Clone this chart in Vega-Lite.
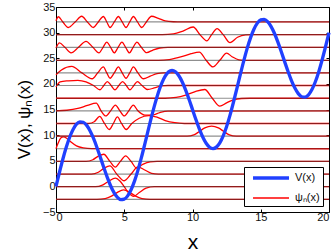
{
"$schema": "https://vega.github.io/schema/vega-lite/v6.json",
"width": 273, "height": 205,
"autosize": {"type": "none"},
"padding": {"left": 56, "top": 7, "right": 6, "bottom": 40},
"background": "white",
"datasets": {
"lev": [{"E":-2.53},{"E":-0.06},{"E":2.4},{"E":4.87},{"E":7.34},{"E":9.8},{"E":12.27},{"E":14.74},{"E":17.2},{"E":19.68},{"E":22.14},{"E":24.6},{"E":27.14},{"E":29.6},{"E":32.08}],
"pot": [
{"x":0,"V":0,"s":"V(x)"},{"x":0.25,"V":2.71,"s":"V(x)"},{"x":0.5,"V":5.29,"s":"V(x)"},{"x":0.75,"V":7.62,"s":"V(x)"},{"x":1,"V":9.59,"s":"V(x)"},{"x":1.25,"V":11.11,"s":"V(x)"},{"x":1.5,"V":12.13,"s":"V(x)"},{"x":1.75,"V":12.59,"s":"V(x)"},{"x":2,"V":12.51,"s":"V(x)"},{"x":2.25,"V":11.9,"s":"V(x)"},{"x":2.5,"V":10.82,"s":"V(x)"},{"x":2.75,"V":9.35,"s":"V(x)"},{"x":3,"V":7.59,"s":"V(x)"},{"x":3.25,"V":5.66,"s":"V(x)"},{"x":3.5,"V":3.69,"s":"V(x)"},{"x":3.75,"V":1.8,"s":"V(x)"},{"x":4,"V":0.12,"s":"V(x)"},{"x":4.25,"V":-1.23,"s":"V(x)"},{"x":4.5,"V":-2.16,"s":"V(x)"},{"x":4.75,"V":-2.6,"s":"V(x)"},{"x":5,"V":-2.5,"s":"V(x)"},{"x":5.25,"V":-1.85,"s":"V(x)"},{"x":5.5,"V":-0.66,"s":"V(x)"},{"x":5.75,"V":1.02,"s":"V(x)"},{"x":6,"V":3.12,"s":"V(x)"},{"x":6.25,"V":5.55,"s":"V(x)"},{"x":6.5,"V":8.19,"s":"V(x)"},{"x":6.75,"V":10.91,"s":"V(x)"},{"x":7,"V":13.59,"s":"V(x)"},{"x":7.25,"V":16.1,"s":"V(x)"},{"x":7.5,"V":18.32,"s":"V(x)"},{"x":7.75,"V":20.15,"s":"V(x)"},{"x":8,"V":21.51,"s":"V(x)"},{"x":8.25,"V":22.34,"s":"V(x)"},{"x":8.5,"V":22.63,"s":"V(x)"},{"x":8.75,"V":22.36,"s":"V(x)"},{"x":9,"V":21.59,"s":"V(x)"},{"x":9.25,"V":20.37,"s":"V(x)"},{"x":9.5,"V":18.79,"s":"V(x)"},{"x":9.75,"V":16.96,"s":"V(x)"},{"x":10,"V":15,"s":"V(x)"},{"x":10.25,"V":13.04,"s":"V(x)"},{"x":10.5,"V":11.21,"s":"V(x)"},{"x":10.75,"V":9.63,"s":"V(x)"},{"x":11,"V":8.41,"s":"V(x)"},{"x":11.25,"V":7.64,"s":"V(x)"},{"x":11.5,"V":7.37,"s":"V(x)"},{"x":11.75,"V":7.66,"s":"V(x)"},{"x":12,"V":8.49,"s":"V(x)"},{"x":12.25,"V":9.85,"s":"V(x)"},{"x":12.5,"V":11.68,"s":"V(x)"},{"x":12.75,"V":13.9,"s":"V(x)"},{"x":13,"V":16.41,"s":"V(x)"},{"x":13.25,"V":19.09,"s":"V(x)"},{"x":13.5,"V":21.81,"s":"V(x)"},{"x":13.75,"V":24.45,"s":"V(x)"},{"x":14,"V":26.88,"s":"V(x)"},{"x":14.25,"V":28.98,"s":"V(x)"},{"x":14.5,"V":30.66,"s":"V(x)"},{"x":14.75,"V":31.85,"s":"V(x)"},{"x":15,"V":32.5,"s":"V(x)"},{"x":15.25,"V":32.6,"s":"V(x)"},{"x":15.5,"V":32.16,"s":"V(x)"},{"x":15.75,"V":31.23,"s":"V(x)"},{"x":16,"V":29.88,"s":"V(x)"},{"x":16.25,"V":28.2,"s":"V(x)"},{"x":16.5,"V":26.31,"s":"V(x)"},{"x":16.75,"V":24.34,"s":"V(x)"},{"x":17,"V":22.41,"s":"V(x)"},{"x":17.25,"V":20.65,"s":"V(x)"},{"x":17.5,"V":19.18,"s":"V(x)"},{"x":17.75,"V":18.1,"s":"V(x)"},{"x":18,"V":17.49,"s":"V(x)"},{"x":18.25,"V":17.41,"s":"V(x)"},{"x":18.5,"V":17.87,"s":"V(x)"},{"x":18.75,"V":18.89,"s":"V(x)"},{"x":19,"V":20.41,"s":"V(x)"},{"x":19.25,"V":22.38,"s":"V(x)"},{"x":19.5,"V":24.71,"s":"V(x)"},{"x":19.75,"V":27.29,"s":"V(x)"},{"x":20,"V":30,"s":"V(x)"}
],
"psi": [
{"n":0,"x":0,"y":-2.53,"s":"ψₙ(x)"},{"n":0,"x":3.0,"y":-2.53,"s":"ψₙ(x)"},{"n":0,"x":3.6,"y":-2.38,"s":"ψₙ(x)"},{"n":0,"x":4.1,"y":-1.85,"s":"ψₙ(x)"},{"n":0,"x":4.5,"y":-1.16,"s":"ψₙ(x)"},{"n":0,"x":4.95,"y":-0.7,"s":"ψₙ(x)"},{"n":0,"x":5.4,"y":-1.16,"s":"ψₙ(x)"},{"n":0,"x":5.8,"y":-1.85,"s":"ψₙ(x)"},{"n":0,"x":6.3,"y":-2.38,"s":"ψₙ(x)"},{"n":0,"x":6.9,"y":-2.53,"s":"ψₙ(x)"},{"n":0,"x":20,"y":-2.53,"s":"ψₙ(x)"},
{"n":1,"x":0,"y":-0.06,"s":"ψₙ(x)"},{"n":1,"x":2.9,"y":-0.06,"s":"ψₙ(x)"},{"n":1,"x":3.4,"y":0.25,"s":"ψₙ(x)"},{"n":1,"x":3.85,"y":1.0,"s":"ψₙ(x)"},{"n":1,"x":4.35,"y":1.62,"s":"ψₙ(x)"},{"n":1,"x":4.7,"y":1.0,"s":"ψₙ(x)"},{"n":1,"x":5.0,"y":-0.06,"s":"ψₙ(x)"},{"n":1,"x":5.3,"y":-1.2,"s":"ψₙ(x)"},{"n":1,"x":5.7,"y":-1.95,"s":"ψₙ(x)"},{"n":1,"x":6.1,"y":-1.2,"s":"ψₙ(x)"},{"n":1,"x":6.6,"y":-0.35,"s":"ψₙ(x)"},{"n":1,"x":7.2,"y":-0.06,"s":"ψₙ(x)"},{"n":1,"x":20,"y":-0.06,"s":"ψₙ(x)"},
{"n":2,"x":0,"y":2.4,"s":"ψₙ(x)"},{"n":2,"x":2.6,"y":2.4,"s":"ψₙ(x)"},{"n":2,"x":3.1,"y":2.75,"s":"ψₙ(x)"},{"n":2,"x":3.5,"y":3.5,"s":"ψₙ(x)"},{"n":2,"x":3.95,"y":4.0,"s":"ψₙ(x)"},{"n":2,"x":4.45,"y":2.4,"s":"ψₙ(x)"},{"n":2,"x":5.0,"y":1.1,"s":"ψₙ(x)"},{"n":2,"x":5.5,"y":2.4,"s":"ψₙ(x)"},{"n":2,"x":6.0,"y":3.8,"s":"ψₙ(x)"},{"n":2,"x":6.5,"y":3.2,"s":"ψₙ(x)"},{"n":2,"x":7.0,"y":2.55,"s":"ψₙ(x)"},{"n":2,"x":7.5,"y":2.4,"s":"ψₙ(x)"},{"n":2,"x":20,"y":2.4,"s":"ψₙ(x)"},
{"n":3,"x":0,"y":4.87,"s":"ψₙ(x)"},{"n":3,"x":2.2,"y":4.87,"s":"ψₙ(x)"},{"n":3,"x":2.7,"y":5.2,"s":"ψₙ(x)"},{"n":3,"x":3.1,"y":5.9,"s":"ψₙ(x)"},{"n":3,"x":3.5,"y":6.27,"s":"ψₙ(x)"},{"n":3,"x":3.95,"y":4.87,"s":"ψₙ(x)"},{"n":3,"x":4.35,"y":3.77,"s":"ψₙ(x)"},{"n":3,"x":4.72,"y":4.87,"s":"ψₙ(x)"},{"n":3,"x":5.1,"y":5.97,"s":"ψₙ(x)"},{"n":3,"x":5.5,"y":4.87,"s":"ψₙ(x)"},{"n":3,"x":5.9,"y":3.57,"s":"ψₙ(x)"},{"n":3,"x":6.35,"y":4.3,"s":"ψₙ(x)"},{"n":3,"x":6.9,"y":4.8,"s":"ψₙ(x)"},{"n":3,"x":7.4,"y":4.87,"s":"ψₙ(x)"},{"n":3,"x":20,"y":4.87,"s":"ψₙ(x)"},
{"n":4,"x":0,"y":7.34,"s":"ψₙ(x)"},{"n":4,"x":0.15,"y":8.4,"s":"ψₙ(x)"},{"n":4,"x":0.35,"y":9.45,"s":"ψₙ(x)"},{"n":4,"x":0.55,"y":9.65,"s":"ψₙ(x)"},{"n":4,"x":0.8,"y":9.35,"s":"ψₙ(x)"},{"n":4,"x":1.1,"y":8.65,"s":"ψₙ(x)"},{"n":4,"x":1.5,"y":7.9,"s":"ψₙ(x)"},{"n":4,"x":2.0,"y":7.5,"s":"ψₙ(x)"},{"n":4,"x":2.6,"y":7.36,"s":"ψₙ(x)"},{"n":4,"x":20,"y":7.34,"s":"ψₙ(x)"},
{"n":5,"x":0,"y":9.8,"s":"ψₙ(x)"},{"n":5,"x":9.6,"y":9.8,"s":"ψₙ(x)"},{"n":5,"x":10.1,"y":10.05,"s":"ψₙ(x)"},{"n":5,"x":10.5,"y":10.7,"s":"ψₙ(x)"},{"n":5,"x":10.9,"y":11.4,"s":"ψₙ(x)"},{"n":5,"x":11.4,"y":11.75,"s":"ψₙ(x)"},{"n":5,"x":11.9,"y":11.4,"s":"ψₙ(x)"},{"n":5,"x":12.3,"y":10.7,"s":"ψₙ(x)"},{"n":5,"x":12.7,"y":10.05,"s":"ψₙ(x)"},{"n":5,"x":13.2,"y":9.8,"s":"ψₙ(x)"},{"n":5,"x":20,"y":9.8,"s":"ψₙ(x)"},
{"n":6,"x":0,"y":12.27,"s":"ψₙ(x)"},{"n":6,"x":2.4,"y":12.27,"s":"ψₙ(x)"},{"n":6,"x":2.8,"y":12.6,"s":"ψₙ(x)"},{"n":6,"x":3.2,"y":13.65,"s":"ψₙ(x)"},{"n":6,"x":3.55,"y":12.27,"s":"ψₙ(x)"},{"n":6,"x":3.9,"y":11.1,"s":"ψₙ(x)"},{"n":6,"x":4.2,"y":12.27,"s":"ψₙ(x)"},{"n":6,"x":4.5,"y":13.55,"s":"ψₙ(x)"},{"n":6,"x":4.8,"y":12.27,"s":"ψₙ(x)"},{"n":6,"x":5.15,"y":11.1,"s":"ψₙ(x)"},{"n":6,"x":5.55,"y":12.27,"s":"ψₙ(x)"},{"n":6,"x":6.1,"y":13.3,"s":"ψₙ(x)"},{"n":6,"x":6.8,"y":13.8,"s":"ψₙ(x)"},{"n":6,"x":7.4,"y":13.5,"s":"ψₙ(x)"},{"n":6,"x":8.0,"y":12.85,"s":"ψₙ(x)"},{"n":6,"x":8.7,"y":12.42,"s":"ψₙ(x)"},{"n":6,"x":9.4,"y":12.27,"s":"ψₙ(x)"},{"n":6,"x":20,"y":12.27,"s":"ψₙ(x)"},
{"n":7,"x":0,"y":14.74,"s":"ψₙ(x)"},{"n":7,"x":0.8,"y":14.85,"s":"ψₙ(x)"},{"n":7,"x":1.6,"y":15.2,"s":"ψₙ(x)"},{"n":7,"x":2.3,"y":15.8,"s":"ψₙ(x)"},{"n":7,"x":2.95,"y":16.25,"s":"ψₙ(x)"},{"n":7,"x":3.3,"y":14.74,"s":"ψₙ(x)"},{"n":7,"x":3.65,"y":13.75,"s":"ψₙ(x)"},{"n":7,"x":4.0,"y":14.74,"s":"ψₙ(x)"},{"n":7,"x":4.35,"y":15.85,"s":"ψₙ(x)"},{"n":7,"x":4.68,"y":14.74,"s":"ψₙ(x)"},{"n":7,"x":5.0,"y":13.75,"s":"ψₙ(x)"},{"n":7,"x":5.33,"y":14.74,"s":"ψₙ(x)"},{"n":7,"x":5.66,"y":15.85,"s":"ψₙ(x)"},{"n":7,"x":6.0,"y":14.74,"s":"ψₙ(x)"},{"n":7,"x":6.5,"y":13.9,"s":"ψₙ(x)"},{"n":7,"x":7.1,"y":13.95,"s":"ψₙ(x)"},{"n":7,"x":7.6,"y":14.4,"s":"ψₙ(x)"},{"n":7,"x":8.2,"y":14.7,"s":"ψₙ(x)"},{"n":7,"x":20,"y":14.74,"s":"ψₙ(x)"},
{"n":8,"x":0,"y":17.2,"s":"ψₙ(x)"},{"n":8,"x":8.0,"y":17.2,"s":"ψₙ(x)"},{"n":8,"x":8.8,"y":17.35,"s":"ψₙ(x)"},{"n":8,"x":9.5,"y":17.8,"s":"ψₙ(x)"},{"n":8,"x":10.2,"y":18.5,"s":"ψₙ(x)"},{"n":8,"x":10.9,"y":18.9,"s":"ψₙ(x)"},{"n":8,"x":11.45,"y":17.2,"s":"ψₙ(x)"},{"n":8,"x":12.0,"y":15.65,"s":"ψₙ(x)"},{"n":8,"x":12.5,"y":16.3,"s":"ψₙ(x)"},{"n":8,"x":13.0,"y":16.9,"s":"ψₙ(x)"},{"n":8,"x":13.6,"y":17.15,"s":"ψₙ(x)"},{"n":8,"x":14.2,"y":17.2,"s":"ψₙ(x)"},{"n":8,"x":20,"y":17.2,"s":"ψₙ(x)"},
{"n":9,"x":0,"y":19.4,"s":"ψₙ(x)"},{"n":9,"x":0.3,"y":20.4,"s":"ψₙ(x)"},{"n":9,"x":0.9,"y":20.6,"s":"ψₙ(x)"},{"n":9,"x":1.6,"y":20.7,"s":"ψₙ(x)"},{"n":9,"x":2.2,"y":20.4,"s":"ψₙ(x)"},{"n":9,"x":2.75,"y":19.68,"s":"ψₙ(x)"},{"n":9,"x":3.22,"y":18.85,"s":"ψₙ(x)"},{"n":9,"x":3.5,"y":19.68,"s":"ψₙ(x)"},{"n":9,"x":3.76,"y":20.45,"s":"ψₙ(x)"},{"n":9,"x":4.04,"y":19.68,"s":"ψₙ(x)"},{"n":9,"x":4.32,"y":18.85,"s":"ψₙ(x)"},{"n":9,"x":4.6,"y":19.68,"s":"ψₙ(x)"},{"n":9,"x":4.88,"y":20.45,"s":"ψₙ(x)"},{"n":9,"x":5.15,"y":19.68,"s":"ψₙ(x)"},{"n":9,"x":5.42,"y":18.85,"s":"ψₙ(x)"},{"n":9,"x":5.7,"y":19.68,"s":"ψₙ(x)"},{"n":9,"x":5.96,"y":20.45,"s":"ψₙ(x)"},{"n":9,"x":6.3,"y":19.68,"s":"ψₙ(x)"},{"n":9,"x":6.7,"y":18.9,"s":"ψₙ(x)"},{"n":9,"x":7.2,"y":19.2,"s":"ψₙ(x)"},{"n":9,"x":7.7,"y":19.6,"s":"ψₙ(x)"},{"n":9,"x":8.2,"y":19.68,"s":"ψₙ(x)"},{"n":9,"x":20,"y":19.68,"s":"ψₙ(x)"},
{"n":10,"x":0,"y":21.8,"s":"ψₙ(x)"},{"n":10,"x":0.4,"y":22.7,"s":"ψₙ(x)"},{"n":10,"x":1.15,"y":23.4,"s":"ψₙ(x)"},{"n":10,"x":1.9,"y":22.14,"s":"ψₙ(x)"},{"n":10,"x":2.65,"y":21.0,"s":"ψₙ(x)"},{"n":10,"x":3.05,"y":22.14,"s":"ψₙ(x)"},{"n":10,"x":3.47,"y":23.3,"s":"ψₙ(x)"},{"n":10,"x":3.72,"y":22.14,"s":"ψₙ(x)"},{"n":10,"x":3.96,"y":21.1,"s":"ψₙ(x)"},{"n":10,"x":4.27,"y":22.14,"s":"ψₙ(x)"},{"n":10,"x":4.57,"y":23.3,"s":"ψₙ(x)"},{"n":10,"x":4.85,"y":22.14,"s":"ψₙ(x)"},{"n":10,"x":5.13,"y":21.1,"s":"ψₙ(x)"},{"n":10,"x":5.4,"y":22.14,"s":"ψₙ(x)"},{"n":10,"x":5.67,"y":23.3,"s":"ψₙ(x)"},{"n":10,"x":6.0,"y":22.14,"s":"ψₙ(x)"},{"n":10,"x":6.4,"y":21.0,"s":"ψₙ(x)"},{"n":10,"x":6.9,"y":21.5,"s":"ψₙ(x)"},{"n":10,"x":7.4,"y":22.0,"s":"ψₙ(x)"},{"n":10,"x":7.9,"y":22.14,"s":"ψₙ(x)"},{"n":10,"x":20,"y":22.14,"s":"ψₙ(x)"},
{"n":11,"x":0,"y":24.6,"s":"ψₙ(x)"},{"n":11,"x":7.5,"y":24.6,"s":"ψₙ(x)"},{"n":11,"x":8.3,"y":24.75,"s":"ψₙ(x)"},{"n":11,"x":9.2,"y":25.3,"s":"ψₙ(x)"},{"n":11,"x":9.9,"y":25.9,"s":"ψₙ(x)"},{"n":11,"x":10.5,"y":26.2,"s":"ψₙ(x)"},{"n":11,"x":11.0,"y":24.6,"s":"ψₙ(x)"},{"n":11,"x":11.5,"y":23.3,"s":"ψₙ(x)"},{"n":11,"x":12.0,"y":24.6,"s":"ψₙ(x)"},{"n":11,"x":12.5,"y":26.0,"s":"ψₙ(x)"},{"n":11,"x":12.9,"y":25.3,"s":"ψₙ(x)"},{"n":11,"x":13.4,"y":24.7,"s":"ψₙ(x)"},{"n":11,"x":14.0,"y":24.6,"s":"ψₙ(x)"},{"n":11,"x":20,"y":24.6,"s":"ψₙ(x)"},
{"n":12,"x":0,"y":27.0,"s":"ψₙ(x)"},{"n":12,"x":0.25,"y":28.0,"s":"ψₙ(x)"},{"n":12,"x":0.65,"y":27.14,"s":"ψₙ(x)"},{"n":12,"x":1.1,"y":26.05,"s":"ψₙ(x)"},{"n":12,"x":1.65,"y":27.14,"s":"ψₙ(x)"},{"n":12,"x":2.2,"y":28.3,"s":"ψₙ(x)"},{"n":12,"x":2.7,"y":27.14,"s":"ψₙ(x)"},{"n":12,"x":3.15,"y":26.05,"s":"ψₙ(x)"},{"n":12,"x":3.45,"y":27.14,"s":"ψₙ(x)"},{"n":12,"x":3.72,"y":28.15,"s":"ψₙ(x)"},{"n":12,"x":4.0,"y":27.14,"s":"ψₙ(x)"},{"n":12,"x":4.27,"y":26.05,"s":"ψₙ(x)"},{"n":12,"x":4.55,"y":27.14,"s":"ψₙ(x)"},{"n":12,"x":4.83,"y":28.15,"s":"ψₙ(x)"},{"n":12,"x":5.1,"y":27.14,"s":"ψₙ(x)"},{"n":12,"x":5.38,"y":26.05,"s":"ψₙ(x)"},{"n":12,"x":5.65,"y":27.14,"s":"ψₙ(x)"},{"n":12,"x":5.93,"y":28.15,"s":"ψₙ(x)"},{"n":12,"x":6.25,"y":27.14,"s":"ψₙ(x)"},{"n":12,"x":6.64,"y":26.1,"s":"ψₙ(x)"},{"n":12,"x":7.1,"y":26.6,"s":"ψₙ(x)"},{"n":12,"x":7.6,"y":27.0,"s":"ψₙ(x)"},{"n":12,"x":8.2,"y":27.14,"s":"ψₙ(x)"},{"n":12,"x":20,"y":27.14,"s":"ψₙ(x)"},
{"n":13,"x":0,"y":29.6,"s":"ψₙ(x)"},{"n":13,"x":7.8,"y":29.6,"s":"ψₙ(x)"},{"n":13,"x":8.6,"y":29.75,"s":"ψₙ(x)"},{"n":13,"x":9.3,"y":30.3,"s":"ψₙ(x)"},{"n":13,"x":10.05,"y":31.1,"s":"ψₙ(x)"},{"n":13,"x":10.55,"y":29.6,"s":"ψₙ(x)"},{"n":13,"x":11.05,"y":28.4,"s":"ψₙ(x)"},{"n":13,"x":11.4,"y":29.6,"s":"ψₙ(x)"},{"n":13,"x":11.8,"y":30.8,"s":"ψₙ(x)"},{"n":13,"x":12.25,"y":29.6,"s":"ψₙ(x)"},{"n":13,"x":12.75,"y":28.05,"s":"ψₙ(x)"},{"n":13,"x":13.3,"y":29.1,"s":"ψₙ(x)"},{"n":13,"x":13.9,"y":29.55,"s":"ψₙ(x)"},{"n":13,"x":14.5,"y":29.6,"s":"ψₙ(x)"},{"n":13,"x":20,"y":29.6,"s":"ψₙ(x)"},
{"n":14,"x":0,"y":32.3,"s":"ψₙ(x)"},{"n":14,"x":0.17,"y":33.1,"s":"ψₙ(x)"},{"n":14,"x":0.5,"y":32.08,"s":"ψₙ(x)"},{"n":14,"x":0.9,"y":31.0,"s":"ψₙ(x)"},{"n":14,"x":1.4,"y":32.08,"s":"ψₙ(x)"},{"n":14,"x":1.88,"y":33.2,"s":"ψₙ(x)"},{"n":14,"x":2.3,"y":32.08,"s":"ψₙ(x)"},{"n":14,"x":2.73,"y":31.0,"s":"ψₙ(x)"},{"n":14,"x":3.1,"y":32.08,"s":"ψₙ(x)"},{"n":14,"x":3.47,"y":33.15,"s":"ψₙ(x)"},{"n":14,"x":3.72,"y":32.08,"s":"ψₙ(x)"},{"n":14,"x":3.96,"y":31.0,"s":"ψₙ(x)"},{"n":14,"x":4.27,"y":32.08,"s":"ψₙ(x)"},{"n":14,"x":4.57,"y":33.15,"s":"ψₙ(x)"},{"n":14,"x":4.85,"y":32.08,"s":"ψₙ(x)"},{"n":14,"x":5.13,"y":31.0,"s":"ψₙ(x)"},{"n":14,"x":5.4,"y":32.08,"s":"ψₙ(x)"},{"n":14,"x":5.67,"y":33.15,"s":"ψₙ(x)"},{"n":14,"x":5.97,"y":32.08,"s":"ψₙ(x)"},{"n":14,"x":6.28,"y":31.0,"s":"ψₙ(x)"},{"n":14,"x":6.62,"y":32.08,"s":"ψₙ(x)"},{"n":14,"x":7.0,"y":33.2,"s":"ψₙ(x)"},{"n":14,"x":7.5,"y":32.8,"s":"ψₙ(x)"},{"n":14,"x":8.0,"y":32.3,"s":"ψₙ(x)"},{"n":14,"x":8.6,"y":32.12,"s":"ψₙ(x)"},{"n":14,"x":9.2,"y":32.08,"s":"ψₙ(x)"},{"n":14,"x":20,"y":32.08,"s":"ψₙ(x)"}
]
},
"layer": [
{
"data": {"name": "psi"},
"mark": {"type": "line", "interpolate": "monotone"},
"encoding": {
"x": {"field": "x", "type": "quantitative", "scale": {"domain": [0, 20], "nice": false, "zero": false},
"axis": {"orient": "bottom", "values": [0, 5, 10, 15, 20], "title": "x", "titleFontSize": 21, "titlePadding": 9, "labelPadding": 2}},
"y": {"field": "y", "type": "quantitative", "scale": {"domain": [-5, 35], "nice": false, "zero": false},
"axis": {"orient": "left", "values": [-5, 0, 5, 10, 15, 20, 25, 30, 35], "title": "V(x), ψₙ(x)", "titleFontSize": 17, "titlePadding": 9, "titleY": 112, "labelPadding": 4}},
"detail": {"field": "n", "type": "nominal"},
"color": {"field": "s", "type": "nominal", "scale": {"domain": ["V(x)", "ψₙ(x)"], "range": ["#2040ff", "#ff0000"]}, "legend": {"title": null}},
"strokeWidth": {"field": "s", "type": "nominal", "scale": {"domain": ["V(x)", "ψₙ(x)"], "range": [3.3, 1.3]}, "legend": {"title": null}}
}
},
{
"data": {"name": "lev"},
"mark": {"type": "rule", "color": "#333333", "opacity": 0.55, "strokeWidth": 1.2},
"encoding": {
"y": {"field": "E", "type": "quantitative", "axis": {"orient": "right", "values": [-5, 0, 5, 10, 15, 20, 25, 30, 35], "labels": false, "title": null}}
}
},
{
"data": {"name": "pot"},
"mark": {"type": "line", "interpolate": "monotone"},
"encoding": {
"x": {"field": "x", "type": "quantitative", "axis": {"orient": "top", "values": [0, 5, 10, 15, 20], "labels": false, "title": null}},
"y": {"field": "V", "type": "quantitative", "axis": null},
"color": {"field": "s", "type": "nominal", "legend": {"title": null}},
"strokeWidth": {"field": "s", "type": "nominal", "legend": {"title": null}}
}
}
],
"resolve": {"axis": {"x": "independent", "y": "independent"}},
"config": {
"view": {"stroke": null},
"axis": {"grid": false, "domainColor": "#000000", "domainWidth": 1, "tickColor": "#000000", "tickSize": -3, "labelPadding": 1, "labelColor": "#111111", "labelFont": "Liberation Sans", "labelFontSize": 11, "titleFont": "Liberation Sans", "titleFontWeight": "normal", "titleColor": "#000000"},
"legend": {"orient": "bottom-right", "offset": 6, "padding": 3, "strokeColor": "#000000", "fillColor": "#ffffff", "cornerRadius": 0, "symbolType": "M-0.33,0H5.67", "symbolSize": 144, "labelFont": "Liberation Sans", "labelFontSize": 11, "labelColor": "#111111", "labelOffset": 32, "rowPadding": 6}
}
}
